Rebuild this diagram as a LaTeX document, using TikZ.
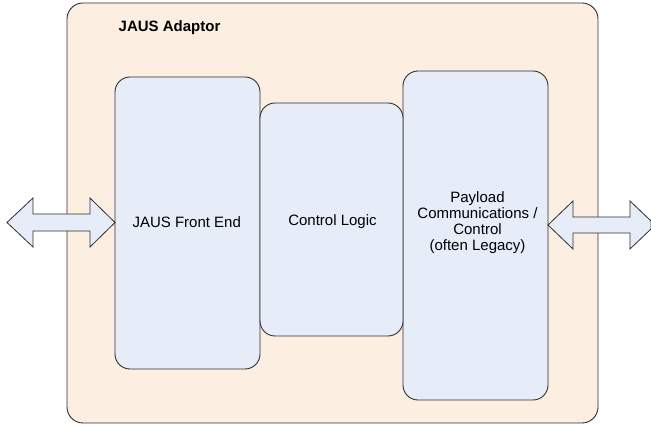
\documentclass[tikz,border=0pt]{standalone}
\usepackage{fontspec}
\setmainfont{Liberation Sans}
\definecolor{peach}{HTML}{FDEEE2}
\definecolor{paleblue}{HTML}{E6EDF8}
\definecolor{edge}{HTML}{2E2E2E}
\begin{document}
\begin{tikzpicture}[x=1pt,y=-1pt,
  panel/.style={draw=edge,line width=0.9pt,fill=paleblue,rounded corners=15pt},
  dblarrow/.style={draw=edge,line width=0.8pt,fill=paleblue,line join=miter},
  lbl/.style={font=\fontsize{15}{16}\selectfont,align=center,inner sep=0pt}]
\useasboundingbox (0,0) rectangle (651,427);
% outer adaptor frame
\draw[draw=edge,line width=0.9pt,fill=peach,rounded corners=16pt] (67,3) rectangle (598,423);
\node[lbl,font=\fontsize{15}{16}\selectfont\bfseries,anchor=base west] (title) at (118.5,31.7) {JAUS Adaptor};
% functional blocks
\draw[panel] (115,77) rectangle (260,369);
\draw[panel] (403,71) rectangle (548,400);
\draw[panel] (260,103) rectangle (403,336);
\node[lbl,anchor=base] (front) at (186.7,227.7) {JAUS Front End};
\node[lbl,anchor=base] (logic) at (332.5,226) {Control Logic};
\node[lbl] (payload) at (477.5,223) {Payload\\Communications /\\Control\\(often Legacy)};
% external double arrows
\draw[dblarrow] (7,222.5) -- (33,198) -- (33,214) -- (90,214) -- (90,198) -- (115,222.5)
  -- (90,247) -- (90,231) -- (33,231) -- (33,247) -- cycle;
\draw[dblarrow] (548,225) -- (573,201) -- (573,217) -- (630,217) -- (630,201) -- (651,221)
  -- (651,229) -- (630,249) -- (630,233) -- (573,233) -- (573,249) -- cycle;
\end{tikzpicture}
\end{document}
